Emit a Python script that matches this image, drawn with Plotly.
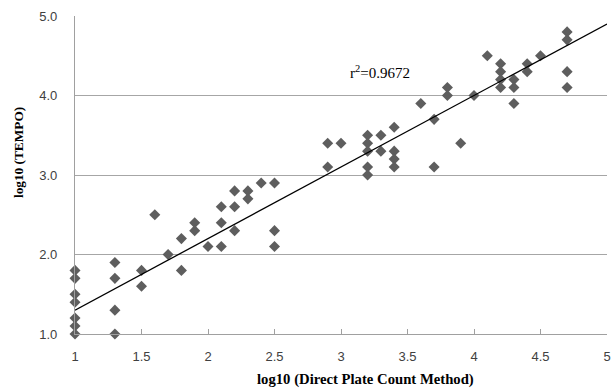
import plotly.graph_objects as go

# Data
x_plate = [1, 1, 1, 1, 1, 1, 1,
           1.3, 1.3, 1.3, 1.3,
           1.5, 1.5, 1.6, 1.7, 1.8, 1.8, 1.9, 1.9, 2.0,
           2.1, 2.1, 2.1, 2.2, 2.2, 2.2, 2.3, 2.3, 2.4,
           2.5, 2.5, 2.5, 2.9, 2.9, 3.0,
           3.2, 3.2, 3.2, 3.2, 3.2, 3.3, 3.3,
           3.4, 3.4, 3.4, 3.4, 3.6, 3.7, 3.7, 3.8, 3.8, 3.9, 4.0, 4.1,
           4.2, 4.2, 4.2, 4.2, 4.3, 4.3, 4.3, 4.4, 4.4, 4.5,
           4.7, 4.7, 4.7, 4.7]
y_tempo = [1.8, 1.7, 1.5, 1.4, 1.2, 1.1, 1.0,
           1.9, 1.7, 1.3, 1.0,
           1.8, 1.6, 2.5, 2.0, 2.2, 1.8, 2.4, 2.3, 2.1,
           2.6, 2.4, 2.1, 2.8, 2.6, 2.3, 2.8, 2.7, 2.9,
           2.9, 2.3, 2.1, 3.4, 3.1, 3.4,
           3.5, 3.4, 3.3, 3.1, 3.0, 3.5, 3.3,
           3.6, 3.3, 3.2, 3.1, 3.9, 3.7, 3.1, 4.1, 4.0, 3.4, 4.0, 4.5,
           4.4, 4.3, 4.2, 4.1, 4.2, 4.1, 3.9, 4.4, 4.3, 4.5,
           4.8, 4.7, 4.3, 4.1]

trend_x = [1, 5]
trend_y = [1.3, 4.9]

x_ticks = [1, 1.5, 2, 2.5, 3, 3.5, 4, 4.5, 5]
x_ticklabels = ["1", "1.5", "2", "2.5", "3", "3.5", "4", "4.5", "5"]
y_ticks = [1, 2, 3, 4, 5]
y_ticklabels = ["1.0", "2.0", "3.0", "4.0", "5.0"]

r2_text = "r<sup>2</sup>=0.9672"
x_title = "log10 (Direct Plate Count Method)"
y_title = "log10 (TEMPO)"

W, H = 611, 390
ml, mr, mt, mb = 75, 3.5, 16, 56
pw, ph = W - ml - mr, H - mt - mb

fig = go.Figure()
fig.add_trace(go.Scatter(
    x=x_plate, y=y_tempo, mode="markers",
    marker=dict(symbol="diamond", size=8.5, color="#5e5e5e", line=dict(width=0)),
    showlegend=False, cliponaxis=False))
fig.add_trace(go.Scatter(
    x=trend_x, y=trend_y, mode="lines",
    line=dict(color="black", width=1.3), showlegend=False))

tick_font = dict(family="Liberation Sans, Arial, sans-serif", size=13, color="#404040")
serif_bold = dict(family="Liberation Serif, Times New Roman, serif", size=14.7, color="black")
serif_bold_y = dict(family="Liberation Serif, Times New Roman, serif", size=13.3, color="black")

fig.update_layout(
    width=W, height=H,
    margin=dict(l=ml, r=mr, t=mt, b=mb, autoexpand=False),
    paper_bgcolor="white", plot_bgcolor="white",
    xaxis=dict(range=[1, 5], tickvals=x_ticks, ticktext=x_ticklabels,
               showgrid=False, zeroline=False, showline=True,
               linecolor="#a0a0a0", linewidth=1.3,
               ticks="inside", ticklen=5, tickcolor="#a0a0a0", tickwidth=1,
               tickfont=tick_font, ticklabelstandoff=10),
    yaxis=dict(range=[1, 5], tickvals=y_ticks, ticktext=y_ticklabels,
               showgrid=True, gridcolor="#a6a6a6", gridwidth=1.3,
               zeroline=False, showline=True,
               linecolor="#a0a0a0", linewidth=1.3, ticks="",
               tickfont=tick_font, ticklabelstandoff=14),
    annotations=[
        dict(text=r2_text, x=3.29, y=4.29, xref="x", yref="y", showarrow=False,
             font=dict(family="Liberation Serif, Times New Roman, serif", size=15, color="black")),
        dict(text="<b>" + x_title + "</b>", xref="paper", yref="paper",
             x=(366 - ml) / pw, y=-(379 - (mt + ph)) / ph,
             xanchor="center", yanchor="middle", showarrow=False, font=serif_bold),
        dict(text="<b>" + y_title + "</b>", xref="paper", yref="paper",
             x=(18 - ml) / pw, y=(H - mb - 153) / ph,
             xanchor="center", yanchor="middle", textangle=-90,
             showarrow=False, font=serif_bold_y),
    ],
)

fig.write_html("out.html", config={"displayModeBar": False},
               post_script="document.body.style.margin='0';document.body.style.overflow='hidden';")
